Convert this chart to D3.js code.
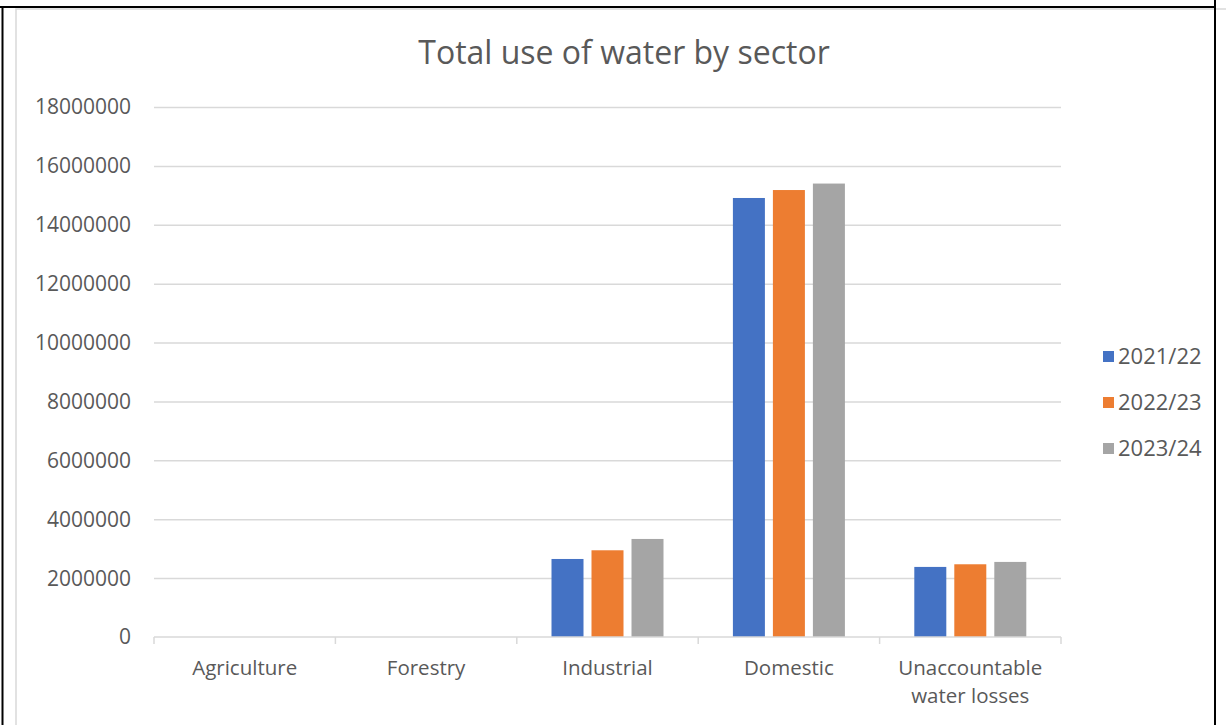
<!DOCTYPE html>
<html>
<head>
<meta charset="utf-8">
<script src="https://cdnjs.cloudflare.com/ajax/libs/d3/7.8.5/d3.min.js"></script>
<style>
  body { margin: 0; background: #fff; }
  svg { display: block; font-family: "Open Sans", sans-serif; }
</style>
</head>
<body>
<div id="graph"></div>
<script>
// sectors on the x axis, one group of bars each
var sectors = ["Agriculture", "Forestry", "Industrial", "Domestic", "Unaccountable water losses"];
var years = ["2021/22", "2022/23", "2023/24"];
var use2122 = [0, 0, 2650000, 14910000, 2380000];
var use2223 = [0, 0, 2945000, 15180000, 2470000];
var use2324 = [0, 0, 3330000, 15400000, 2550000];
var yTicks = [0, 2000000, 4000000, 6000000, 8000000, 10000000, 12000000, 14000000, 16000000, 18000000];
var colors = ["#4472C4", "#ED7D31", "#A5A5A5"];

var seriesValues = [use2122, use2223, use2324];
var rows = sectors.map(function (s, i) {
   return {sector: s, values: years.map(function (y, j) {return {year: y, value: seriesValues[j][i]};})};
});

var width = 1226;
var height = 725;
var plotLeft = 154, plotRight = 1061, plotTop = 107, plotBottom = 637;

var svg = d3.select("#graph").
append("svg").
attr("width", width).
attr("height", height);

// page frame (table cell borders + chart area border)
svg.append("rect").attr("x", 16).attr("y", 9).attr("width", 1230).attr("height", 740).
attr("fill", "none").attr("stroke", "#d9d9d9").attr("stroke-width", 1.5);
svg.append("line").attr("x1", 0).attr("x2", 1216).attr("y1", 7).attr("y2", 7).attr("stroke", "#000").attr("stroke-width", 2);
svg.append("line").attr("x1", 2.5).attr("x2", 2.5).attr("y1", 6).attr("y2", height).attr("stroke", "#000").attr("stroke-width", 2);
svg.append("line").attr("x1", 1215).attr("x2", 1215).attr("y1", 0).attr("y2", height).attr("stroke", "#000").attr("stroke-width", 2);

var xScale = d3.scaleBand().
domain(sectors).
range([plotLeft, plotRight]);

var barGroupWidth = 112;
var xInner = d3.scaleBand().
domain(years).
range([0, barGroupWidth]).
paddingInner(0.2);

var yScale = d3.scaleLinear().
domain([0, 18000000]).
range([plotBottom, plotTop]);

// gridlines
var grid = svg.append("g").
attr("transform", "translate(" + plotLeft + ",0)").
call(d3.axisLeft(yScale).tickValues(yTicks.slice(1)).tickSize(-(plotRight - plotLeft)).tickFormat(""));
grid.select(".domain").remove();
grid.selectAll("line").attr("stroke", "#d9d9d9").attr("stroke-width", 1.5);

// y axis labels
var yAxis = svg.append("g").
attr("transform", "translate(" + (plotLeft - 20) + ",0)").
call(d3.axisLeft(yScale).tickValues(yTicks).tickSize(0).tickFormat(d3.format("d")));
yAxis.select(".domain").remove();
yAxis.selectAll("text").
attr("fill", "#595959").
style("font-size", "21px").
style("font-family", "Open Sans").
attr("dy", "0.33em");

// bars
var groups = svg.selectAll(".group").
data(rows).
enter().
append("g").
attr("class", "group").
attr("transform", function (d) {return "translate(" + (xScale(d.sector) + (xScale.bandwidth() - barGroupWidth) / 2) + ",0)";});

groups.selectAll("rect").
data(function (d) {return d.values;}).
enter().
append("rect").
attr("x", function (d) {return xInner(d.year);}).
attr("width", xInner.bandwidth()).
attr("y", function (d) {return yScale(d.value);}).
attr("height", function (d) {return plotBottom - yScale(d.value);}).
attr("fill", function (d, i) {return colors[i];});

// x axis line with category ticks
var xAxis = svg.append("g").
attr("transform", "translate(0," + plotBottom + ")");
xAxis.append("line").attr("x1", plotLeft).attr("x2", plotRight).attr("y1", 0).attr("y2", 0).
attr("stroke", "#d9d9d9").attr("stroke-width", 1.5);
var bounds = sectors.map(function (s) {return xScale(s);}).concat([plotRight]);
xAxis.selectAll(".tk").
data(bounds).
enter().
append("line").
attr("x1", function (d) {return d;}).
attr("x2", function (d) {return d;}).
attr("y1", 0).
attr("y2", 7).
attr("stroke", "#d9d9d9").
attr("stroke-width", 1.5);

var labels = svg.selectAll(".xlabel").
data(sectors).
enter().
append("text").
attr("class", "xlabel").
attr("x", function (d) {return xScale(d) + xScale.bandwidth() / 2;}).
attr("y", 675).
attr("text-anchor", "middle").
attr("fill", "#595959").
style("font-size", "20.5px");
labels.each(function (d) {
   var t = d3.select(this);
   var lines = d === "Unaccountable water losses" ? ["Unaccountable", "water losses"] : [d];
   lines.forEach(function (ln, i) {
      t.append("tspan").attr("x", xScale(d) + xScale.bandwidth() / 2).attr("dy", i === 0 ? 0 : 28).text(ln);
   });
});

// title
svg.append("text").
text("Total use of water by sector").
attr("x", 624).
attr("y", 64).
attr("text-anchor", "middle").
attr("fill", "#595959").
style("font-size", "32px");

// legend
var legend = svg.selectAll(".legend").
data(years).
enter().
append("g").
attr("class", "legend").
attr("transform", function (d, i) {return "translate(1103," + (351 + i * 46) + ")";});
legend.append("rect").attr("width", 11).attr("height", 11).attr("fill", function (d, i) {return colors[i];});
legend.append("text").
attr("x", 15).
attr("y", 13).
attr("fill", "#595959").
style("font-size", "22px").
text(function (d) {return d;});
</script>
</body>
</html>
